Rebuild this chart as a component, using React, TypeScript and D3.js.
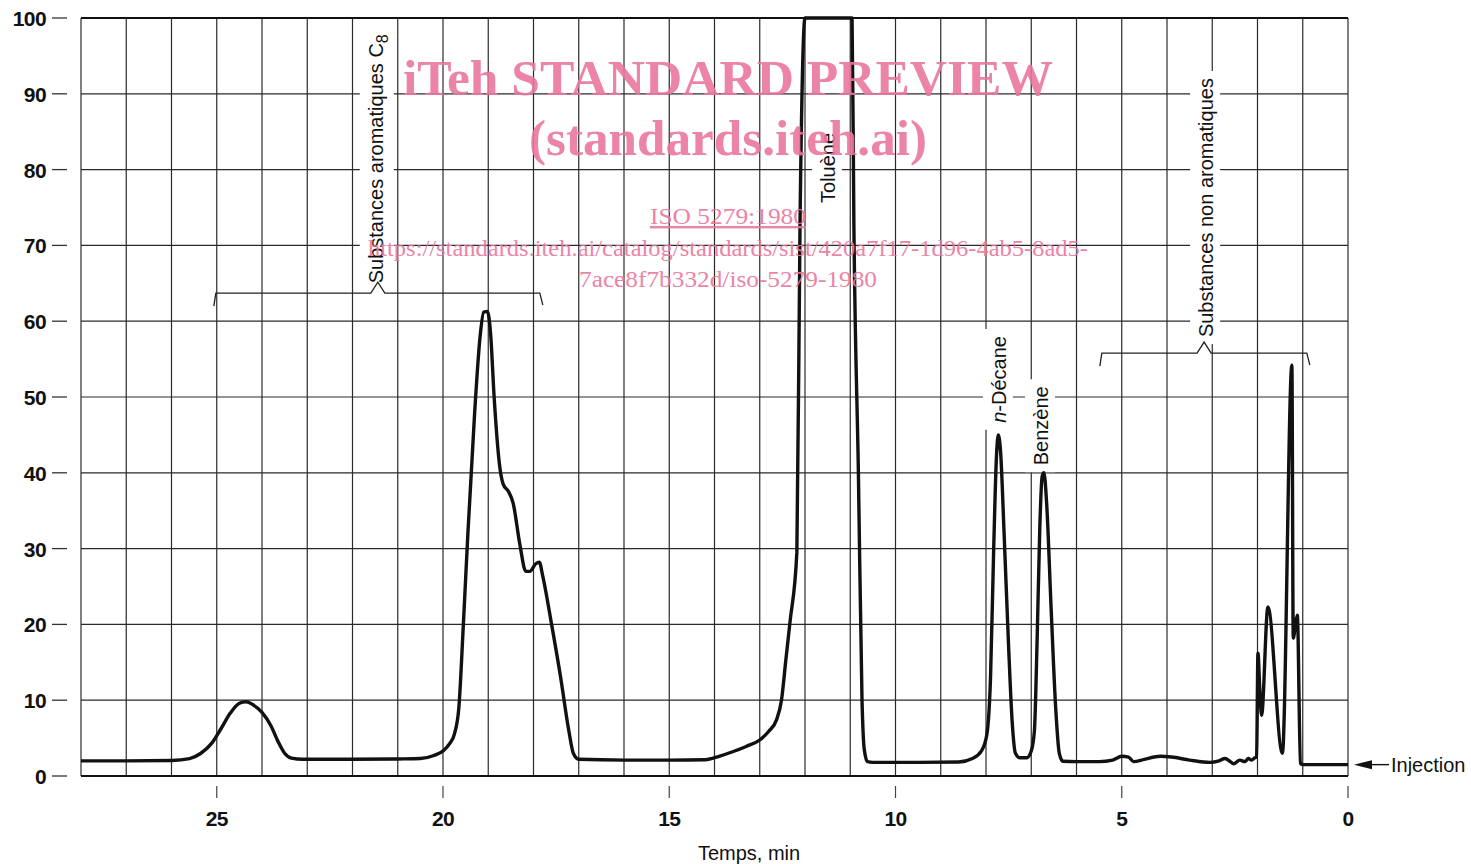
import * as d3 from "d3";
import { useEffect, useRef } from "react";

const WIDTH = 1471;
const HEIGHT = 864;

// Retention time (min) and detector response (% of full scale)
const TIME_MIN = [
  28.0, 27.0, 26.0, 25.6, 25.35, 25.1, 24.9, 24.7, 24.5, 24.35, 24.2, 24.0, 23.8, 23.65, 23.5, 23.35, 23.1,
  22.0, 21.0, 20.5, 20.2, 20.0, 19.85, 19.75, 19.65, 19.55, 19.45, 19.3, 19.18, 19.1, 19.02, 18.95, 18.87,
  18.75, 18.67, 18.55, 18.45, 18.3, 18.17, 18.08, 17.95, 17.87, 17.8, 17.6, 17.4, 17.22, 17.12, 17.0,
  16.0, 15.0, 14.2, 13.9, 13.6, 13.3, 13.0, 12.8, 12.63, 12.52, 12.42, 12.33, 12.18, 12.11, 12.0,
  11.5, 10.96, 10.92, 10.82, 10.74, 10.69, 10.62, 10.5, 9.5, 8.6, 8.3, 8.1, 7.98, 7.9, 7.83, 7.77, 7.73,
  7.68, 7.6, 7.5, 7.42, 7.35, 7.25, 7.1, 7.0, 6.93, 6.87, 6.81, 6.76, 6.72, 6.66, 6.56, 6.46, 6.38, 6.3,
  6.0, 5.5, 5.2, 5.0, 4.85, 4.74, 4.5, 4.15, 3.9, 3.5, 3.05, 2.85, 2.72, 2.6, 2.53, 2.39, 2.28, 2.2,
  2.13, 2.06, 2.02, 1.99, 1.95, 1.91, 1.77, 1.45, 1.24, 1.21, 1.16, 1.12, 1.05, 1.0, 0.5, 0.0,
];
const RESPONSE = [
  2.0, 2.0, 2.05, 2.3, 3.0, 4.4, 6.3, 8.3, 9.6, 9.8, 9.4, 8.4, 6.6, 4.6, 3.0, 2.35, 2.2,
  2.2, 2.25, 2.3, 2.7, 3.3, 4.3, 5.5, 9.0, 20.0, 32.0, 48.0, 58.0, 61.2, 61.3, 58.5, 50.0,
  41.0, 38.5, 37.5, 36.0, 30.5, 27.0, 27.0, 28.0, 28.2, 26.5, 20.0, 13.0, 6.0, 3.0, 2.2,
  2.1, 2.1, 2.15, 2.6, 3.2, 3.9, 4.75, 5.9, 7.4, 10.0, 15.5, 20.4, 29.5, 73.0, 100,
  100, 100, 73.0, 40.0, 10.0, 3.5, 1.9, 1.8, 1.8, 1.85, 2.3, 3.3, 5.5, 13.0, 30.0, 42.0, 45.0,
  43.0, 32.0, 17.0, 7.0, 3.0, 2.4, 2.4, 3.3, 6.0, 18.0, 33.0, 39.5, 40.0, 36.0, 22.0, 9.0, 3.0, 1.95,
  1.9, 1.9, 2.1, 2.6, 2.5, 1.9, 2.2, 2.6, 2.5, 2.1, 1.8, 2.0, 2.3, 1.9, 1.6, 2.1, 1.9, 2.3,
  2.1, 2.4, 2.5, 16.2, 11.5, 8.0, 22.3, 3.0, 54.2, 18.2, 20.0, 21.2, 1.7, 1.5, 1.5, 1.5,
];

const X_LABELED_TICKS = [25, 20, 15, 10, 5, 0];
const Y_TICKS = [0, 10, 20, 30, 40, 50, 60, 70, 80, 90, 100];

// rotated labels: anchor time / response where the text starts
const PEAK_LABELS = [
  { parts: [{ s: "Toluène" }], t: 11.34, v: 75.6 },
  { parts: [{ s: "n", italic: true }, { s: "-Décane" }], t: 7.56, v: 46.6 },
  { parts: [{ s: "Benzène" }], t: 6.63, v: 41.0 },
  { parts: [{ s: "Substances aromatiques C" }, { s: "8", sub: true }], t: 21.33, v: 65.0 },
  { parts: [{ s: "Substances non aromatiques" }], t: 2.98, v: 57.9 },
];

const BRACKETS = [
  { from: 25.02, to: 17.86, apex: 21.44, level: 63.7 },
  { from: 5.44, to: 0.91, apex: 3.18, level: 55.8 },
];

const WATERMARK = [
  { text: "iTeh STANDARD PREVIEW", size: 51, bold: true, cy: 95, len: 650 },
  { text: "(standards.iteh.ai)", size: 51, bold: true, cy: 155, len: 398 },
  { text: "ISO 5279:1980", size: 24, bold: false, cy: 224, len: 156, underline: true },
  { text: "https://standards.iteh.ai/catalog/standards/sist/420a7f17-1d96-4ab5-8ad5-", size: 24, bold: false, cy: 256, len: 720 },
  { text: "7ace8f7b332d/iso-5279-1980", size: 24, bold: false, cy: 287, len: 298 },
];

const SANS = "'Liberation Sans', Arial, Helvetica, sans-serif";
const SERIF = "'Liberation Serif', 'Times New Roman', serif";
const INK = "#111";

export default function App() {
  const svgRef = useRef<SVGSVGElement>(null);

  useEffect(() => {
    const svgEl = svgRef.current;
    if (!svgEl) return;
    const svg = d3.select(svgEl);
    svg.selectAll("*").remove();

    const x = d3.scaleLinear().domain([28, 0]).range([81, 1348]);
    const y = d3.scaleLinear().domain([0, 100]).range([776, 18]);

    svg.append("rect").attr("width", WIDTH).attr("height", HEIGHT).attr("fill", "#fff");

    // grid
    const grid = svg.append("g");
    grid
      .selectAll("line.v")
      .data(d3.range(0, 29))
      .join("line")
      .attr("x1", (d) => x(d))
      .attr("x2", (d) => x(d))
      .attr("y1", y(0))
      .attr("y2", y(100))
      .attr("stroke", "#2a2a2a")
      .attr("stroke-width", 1.2);
    grid
      .selectAll("line.h")
      .data(Y_TICKS)
      .join("line")
      .attr("x1", x(28))
      .attr("x2", x(0))
      .attr("y1", (d) => y(d))
      .attr("y2", (d) => y(d))
      .attr("stroke", (d) => (d === 0 || d === 100 ? INK : "#2a2a2a"))
      .attr("stroke-width", (d) => (d === 0 || d === 100 ? 2.2 : 1.2));

    // y axis: dashes and numbers, detached from the frame
    const yAxis = svg.append("g");
    yAxis
      .selectAll("line")
      .data(Y_TICKS)
      .join("line")
      .attr("x1", 52)
      .attr("x2", 67)
      .attr("y1", (d) => y(d))
      .attr("y2", (d) => y(d))
      .attr("stroke", "#333")
      .attr("stroke-width", 1.3);
    yAxis
      .selectAll("text")
      .data(Y_TICKS)
      .join("text")
      .attr("x", 46)
      .attr("y", (d) => y(d) + 8)
      .attr("text-anchor", "end")
      .attr("font-family", SANS)
      .attr("font-weight", "bold")
      .attr("font-size", 21)
      .attr("letter-spacing", -0.6)
      .attr("fill", INK)
      .text((d) => d);

    // x axis
    const xAxis = svg.append("g");
    xAxis
      .selectAll("line")
      .data(X_LABELED_TICKS)
      .join("line")
      .attr("x1", (d) => x(d))
      .attr("x2", (d) => x(d))
      .attr("y1", y(0) + 10)
      .attr("y2", y(0) + 22)
      .attr("stroke", "#444")
      .attr("stroke-width", 1.2);
    xAxis
      .selectAll("text")
      .data(X_LABELED_TICKS)
      .join("text")
      .attr("x", (d) => x(d))
      .attr("y", y(0) + 50)
      .attr("text-anchor", "middle")
      .attr("font-family", SANS)
      .attr("font-weight", "bold")
      .attr("font-size", 21)
      .attr("letter-spacing", -0.6)
      .attr("fill", INK)
      .text((d) => d);
    svg
      .append("text")
      .attr("x", 749)
      .attr("y", 860)
      .attr("text-anchor", "middle")
      .attr("font-family", SANS)
      .attr("font-size", 20)
      .attr("fill", INK)
      .text("Temps, min");

    // rotated labels on white patches that break the grid
    const labels = svg.append("g");
    PEAK_LABELS.forEach((lab) => {
      const g = labels
        .append("g")
        .attr("transform", `translate(${x(lab.t)},${y(lab.v)}) rotate(-90)`);
      const bg = g.append("rect").attr("fill", "#fff");
      const txt = g
        .append("text")
        .attr("font-family", SANS)
        .attr("font-size", 20)
        .attr("fill", INK);
      lab.parts.forEach((p: any) => {
        const ts = txt.append("tspan").text(p.s);
        if (p.italic) ts.attr("font-style", "italic");
        if (p.sub) ts.attr("font-size", 16).attr("dy", 5);
      });
      const bb = (txt.node() as SVGTextElement).getBBox();
      bg.attr("x", bb.x - 7)
        .attr("y", bb.y - 5)
        .attr("width", bb.width + 14)
        .attr("height", bb.height + 8);
    });

    // brackets with a caret pointing to the label
    svg
      .append("g")
      .selectAll("path")
      .data(BRACKETS)
      .join("path")
      .attr("fill", "none")
      .attr("stroke", "#222")
      .attr("stroke-width", 1.3)
      .attr("d", (b) => {
        const l = y(b.level);
        const x0 = x(b.from);
        const x1 = x(b.to);
        const a = x(b.apex);
        return `M${x0 - 2},${l + 13} L${x0},${l} L${a - 7},${l} L${a},${l - 11} L${a + 7},${l} L${x1},${l} L${x1 + 3},${l + 12}`;
      });

    // chromatogram trace
    const pts: [number, number][] = TIME_MIN.map((t, i) => [t, RESPONSE[i]]);
    const line = d3
      .line<[number, number]>()
      .x((d) => x(d[0]))
      .y((d) => y(d[1]))
      .curve(d3.curveMonotoneX);
    svg
      .append("path")
      .attr("d", line(pts) ?? "")
      .attr("fill", "none")
      .attr("stroke", INK)
      .attr("stroke-width", 3.4)
      .attr("stroke-linejoin", "round");

    // injection marker
    const iy = y(1.5);
    const ix = x(0);
    svg
      .append("path")
      .attr("d", `M${ix + 6},${iy} L${ix + 24},${iy - 4.5} L${ix + 24},${iy + 4.5} Z`)
      .attr("fill", INK);
    svg
      .append("line")
      .attr("x1", ix + 22)
      .attr("x2", ix + 41)
      .attr("y1", iy)
      .attr("y2", iy)
      .attr("stroke", INK)
      .attr("stroke-width", 1.4);
    svg
      .append("text")
      .attr("x", ix + 43)
      .attr("y", iy + 7)
      .attr("font-family", SANS)
      .attr("font-size", 20)
      .attr("fill", INK)
      .text("Injection");

    // watermark stamped over the page
    const wm = svg.append("g").attr("fill", "#e9779c").attr("opacity", 0.9);
    WATERMARK.forEach((w) => {
      const t = wm
        .append("text")
        .attr("x", 728)
        .attr("y", w.cy)
        .attr("text-anchor", "middle")
        .attr("font-family", SERIF)
        .attr("font-size", w.size)
        .attr("font-weight", w.bold ? "bold" : "normal")
        .attr("textLength", w.len)
        .attr("lengthAdjust", "spacingAndGlyphs")
        .text(w.text);
      if (w.underline) t.attr("text-decoration", "underline");
    });
  }, []);

  return (
    <svg
      ref={svgRef}
      width={WIDTH}
      height={HEIGHT}
      style={{ position: "absolute", left: 0, top: 0 }}
    />
  );
}
